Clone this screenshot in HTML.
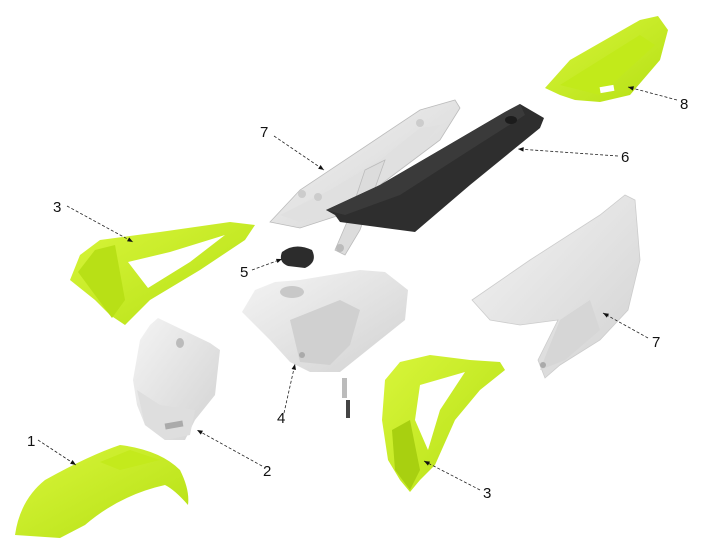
<!DOCTYPE html>
<html><head><style>
html,body{margin:0;padding:0;background:#fff;}
svg{display:block;}
text{font-family:"Liberation Sans",sans-serif;font-size:15px;fill:#111;}
</style></head><body>
<svg width="705" height="555" viewBox="0 0 705 555" xmlns="http://www.w3.org/2000/svg">
<defs>
<marker id="a" viewBox="0 0 10 10" refX="10" refY="5" markerWidth="9" markerHeight="7" orient="auto"><path d="M0,1 L10,5 L0,9 z" fill="#111"/></marker>
<linearGradient id="g" x1="0" y1="0" x2="1" y2="1"><stop offset="0" stop-color="#d8f53a"/><stop offset="1" stop-color="#b5e014"/></linearGradient>
<linearGradient id="w" x1="0" y1="0" x2="1" y2="1"><stop offset="0" stop-color="#f4f4f4"/><stop offset="1" stop-color="#d2d2d2"/></linearGradient>
</defs>

<!-- part 8 -->
<polygon points="545,88 570,60 640,20 658,16 668,30 660,60 630,95 600,102 575,100 560,95" fill="url(#g)"/>
<polygon points="560,85 640,35 655,45 600,95" fill="#c2ea1a"/>
<rect x="600" y="86" width="14" height="6" fill="#fff" transform="rotate(-10 607 89)"/>

<!-- part 7 upper -->
<polygon points="270,222 300,190 420,110 455,100 460,108 440,140 400,170 340,215 300,228" fill="url(#w)" stroke="#bbb" stroke-width="0.8"/>
<polygon points="280,215 330,190 380,160 420,128 440,125 410,160 360,200 300,222" fill="#e0e0e0"/>
<polygon points="365,170 385,160 360,230 345,255 335,250 350,215" fill="#dcdcdc" stroke="#bbb" stroke-width="0.8"/>
<circle cx="340" cy="248" r="4" fill="#bbb"/>
<circle cx="302" cy="194" r="4" fill="#ccc"/><circle cx="318" cy="197" r="4" fill="#ccc"/><circle cx="420" cy="123" r="4" fill="#ccc"/>

<!-- part 6 seat -->
<polygon points="326,210 380,185 440,150 505,112 520,104 544,118 540,128 470,185 415,232 340,222 335,215" fill="#2e2e2e"/>
<polygon points="326,210 380,185 440,150 505,112 520,104 525,115 470,150 400,195 345,215" fill="#3a3a3a"/>
<ellipse cx="511" cy="120" rx="6" ry="4" fill="#1c1c1c"/>

<!-- part 3 left -->
<polygon points="70,280 80,255 100,240 160,232 230,222 255,225 245,240 200,270 150,300 125,325 110,315 95,300" fill="url(#g)"/>
<polygon points="128,262 170,252 225,235 190,262 148,288" fill="#fff"/>
<polygon points="78,272 95,250 115,245 125,300 112,318" fill="#b8e016"/>

<!-- part 5 -->
<path d="M282,252 Q295,242 312,250 Q318,262 305,268 L288,266 Q278,262 282,252z" fill="#2c2c2c"/>

<!-- part 4 tank -->
<polygon points="242,312 255,290 275,282 300,280 330,275 360,270 385,272 408,290 405,320 380,340 340,372 310,372 290,362 270,340 255,325" fill="url(#w)"/>
<polygon points="290,320 340,300 360,310 350,345 330,365 300,362" fill="#d0d0d0"/>
<ellipse cx="292" cy="292" rx="12" ry="6" fill="#c8c8c8"/>
<circle cx="302" cy="355" r="3" fill="#aaa"/>
<rect x="342" y="378" width="5" height="20" fill="#bbb"/>
<rect x="346" y="400" width="4" height="18" fill="#444"/>

<!-- part 7 right -->
<polygon points="472,300 530,260 600,215 625,195 635,200 640,260 628,310 600,340 560,365 545,378 538,360 558,320 520,325 490,320" fill="url(#w)" stroke="#ccc" stroke-width="0.8"/>
<polygon points="540,370 560,320 590,300 600,330 565,360" fill="#d6d6d6"/>
<circle cx="543" cy="365" r="3" fill="#aaa"/>

<!-- part 2 -->
<polygon points="150,325 158,318 210,343 220,350 215,395 195,420 185,440 165,440 145,425 137,405 133,380 140,340" fill="url(#w)"/>
<polygon points="137,390 160,405 195,410 190,435 165,440 145,425" fill="#dedede"/>
<ellipse cx="180" cy="343" rx="4" ry="5" fill="#bbb"/>
<rect x="165" y="422" width="18" height="6" fill="#aaa" transform="rotate(-10 174 425)"/>

<!-- part 1 fender -->
<path d="M15,535 Q20,500 45,480 Q90,455 120,445 Q160,450 180,470 Q190,490 188,505 Q175,490 165,485 Q120,495 85,525 L60,538 Z" fill="url(#g)"/>
<polygon points="100,462 130,450 160,460 120,470" fill="#c4ea1c"/>

<!-- part 3 right -->
<polygon points="385,380 400,362 430,355 470,360 500,362 505,370 480,390 455,420 435,465 420,480 410,492 400,480 388,460 382,420" fill="url(#g)"/>
<polygon points="420,385 465,372 440,410 428,450 415,420" fill="#fff"/>
<polygon points="392,430 410,420 420,470 410,490 395,470" fill="#a8d010"/>

<!-- leaders -->
<g stroke="#222" stroke-width="0.8" stroke-dasharray="3,2" fill="none" marker-end="url(#a)">
<line x1="274" y1="136" x2="324" y2="170"/>
<line x1="618" y1="156" x2="518" y2="149"/>
<line x1="677" y1="100" x2="628" y2="87"/>
<line x1="67" y1="206" x2="133" y2="242"/>
<line x1="252" y1="270" x2="282" y2="259"/>
<line x1="648" y1="338" x2="603" y2="313"/>
<line x1="284" y1="413" x2="295" y2="364"/>
<line x1="262" y1="466" x2="197" y2="430"/>
<line x1="38" y1="440" x2="76" y2="465"/>
<line x1="480" y1="490" x2="424" y2="461"/>
</g>
<text x="260" y="137">7</text>
<text x="621" y="162">6</text>
<text x="680" y="109">8</text>
<text x="53" y="212">3</text>
<text x="240" y="277">5</text>
<text x="652" y="347">7</text>
<text x="277" y="423">4</text>
<text x="263" y="476">2</text>
<text x="27" y="446">1</text>
<text x="483" y="498">3</text>
</svg>
</body></html>
